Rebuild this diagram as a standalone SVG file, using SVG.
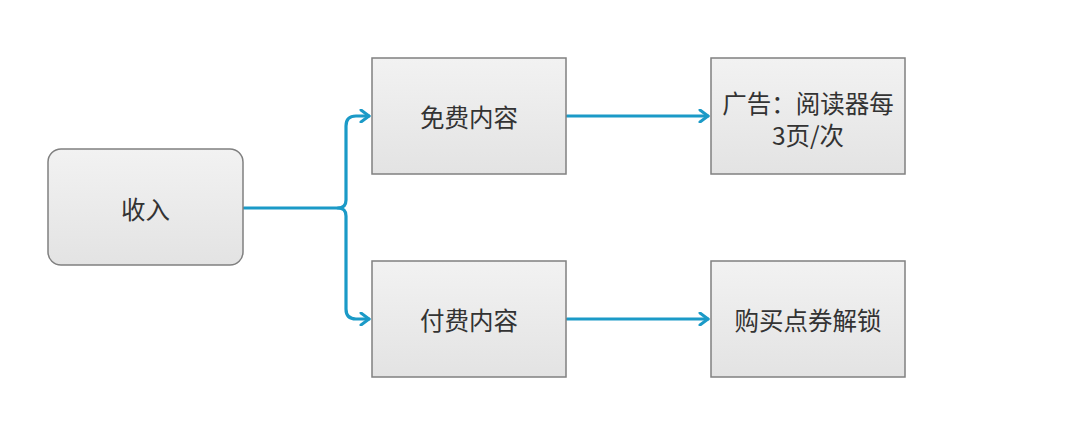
<svg xmlns="http://www.w3.org/2000/svg" width="1080" height="421" viewBox="0 0 1080 421">
<defs>
<linearGradient id="g" x1="0" y1="0" x2="0" y2="1">
<stop offset="0" stop-color="#f2f2f2"/>
<stop offset="1" stop-color="#e3e3e3"/>
</linearGradient>
<marker id="arr" markerWidth="12" markerHeight="14" refX="10" refY="7" orient="auto" markerUnits="userSpaceOnUse">
<path d="M2,1 L10,7 L2,13" fill="none" stroke="#1b9ac7" stroke-width="3" stroke-linecap="round" stroke-linejoin="round"/>
</marker>
</defs>
<style>
.box{fill:url(#g);stroke:#808080;stroke-width:1.5}
.t{font-family:"Noto Sans CJK SC","Noto Sans",sans-serif;font-size:24.5px;fill:#333;text-anchor:middle;dominant-baseline:central}
.c{fill:none;stroke:#1b9ac7;stroke-width:3.2;stroke-linecap:round;stroke-linejoin:round}
</style>
<rect width="1080" height="421" fill="#ffffff"/>
<g id="connectors">
<path class="c" d="M244,208 H338 Q346,208 346,200 V126 Q346,116 356,116 H369" marker-end="url(#arr)"/>
<path class="c" d="M338,208 Q346,208 346,216 V309 Q346,319 356,319 H369" marker-end="url(#arr)"/>
<path class="c" d="M567,116 H708" marker-end="url(#arr)"/>
<path class="c" d="M567,319 H708" marker-end="url(#arr)"/>
</g>
<g id="n-income">
<rect class="box" x="48" y="149" width="195" height="116" rx="13"/>
<text class="t" x="145.5" y="208">收入</text>
</g>
<g id="n-free">
<rect class="box" x="372" y="58" width="194" height="116"/>
<text class="t" x="469" y="116">免费内容</text>
</g>
<g id="n-ad">
<rect class="box" x="711" y="58" width="194" height="116"/>
<text class="t" x="808" y="102">广告：阅读器每</text>
<text class="t" x="808" y="134">3页/次</text>
</g>
<g id="n-paid">
<rect class="box" x="372" y="261" width="194" height="116"/>
<text class="t" x="469" y="319">付费内容</text>
</g>
<g id="n-unlock">
<rect class="box" x="711" y="261" width="194" height="116"/>
<text class="t" x="808" y="319">购买点券解锁</text>
</g>
</svg>
